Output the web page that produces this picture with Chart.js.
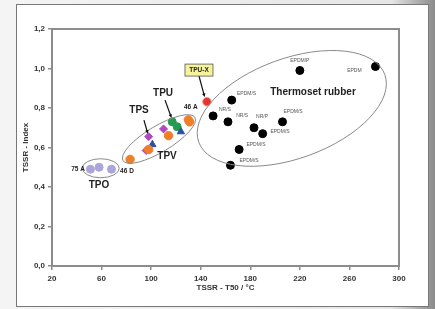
<!DOCTYPE html>
<html>
<head>
<meta charset="utf-8">
<script src="https://cdn.jsdelivr.net/npm/chart.js@4"></script>
<style>
  html, body { margin: 0; padding: 0; }
  body { width: 435px; height: 309px; overflow: hidden; background: #fff; }
  #wrap { position: relative; width: 435px; height: 309px; }
</style>
</head>
<body>
<div id="wrap"><canvas id="chart" width="435" height="309"></canvas></div>
<script>
// Data points (x = TSSR-T50 in °C, y = TSSR index)
const tpoX = [51, 58, 68];
const tpoY = [0.49, 0.50, 0.49];
const tpvX = [83, 98, 114, 130, 131];
const tpvY = [0.54, 0.59, 0.66, 0.74, 0.73];
const tpsX = [98, 96, 110];
const tpsY = [0.655, 0.585, 0.694];
const blueX = [101, 124];
const blueY = [0.615, 0.68];
const tpuX = [117, 121];
const tpuY = [0.73, 0.705];
const tpuxX = [145];
const tpuxY = [0.832];
const rubberX = [150, 162, 165, 183, 190, 206, 171, 164, 220, 281];
const rubberY = [0.76, 0.73, 0.84, 0.70, 0.67, 0.73, 0.59, 0.51, 0.99, 1.01];

const xTicks = [20, 60, 100, 140, 180, 220, 260, 300];
const yTicks = [0, 0.2, 0.4, 0.6, 0.8, 1.0, 1.2];

function pts(xs, ys) {
    return xs.map((x, i) => ({ x: x, y: ys[i] }));
}

// Annotations (text labels placed in data units)
const labels = [
    { t: 'EPDM/P', x: 220, y: 1.04, f: 'small' },
    { t: 'EPDM', x: 264, y: 0.99, f: 'small' },
    { t: 'EPDM/S', x: 177, y: 0.871, f: 'small' },
    { t: 'NR/S', x: 159.5, y: 0.79, f: 'small' },
    { t: 'NR/S', x: 173.5, y: 0.76, f: 'small' },
    { t: 'NR/P', x: 189.5, y: 0.754, f: 'small' },
    { t: 'EPDM/S', x: 214.5, y: 0.78, f: 'small' },
    { t: 'EPDM/S', x: 204, y: 0.678, f: 'small' },
    { t: 'EPDM/S', x: 184.6, y: 0.613, f: 'small' },
    { t: 'EPDM/S', x: 179, y: 0.532, f: 'small' },
    { t: 'Thermoset rubber', x: 230.6, y: 0.881, f: 'big' },
    { t: '46 A', x: 132, y: 0.805, f: 'mid' },
    { t: 'TPU', x: 109.6, y: 0.876, f: 'big' },
    { t: 'TPS', x: 90.2, y: 0.79, f: 'big' },
    { t: 'TPV', x: 112.8, y: 0.557, f: 'big' },
    { t: 'TPO', x: 57.9, y: 0.41, f: 'big' },
    { t: '75 A', x: 41, y: 0.491, f: 'mid' },
    { t: '46 D', x: 80.5, y: 0.481, f: 'mid' }
];
const ellipses = [
    { x: 59.3, y: 0.495, rx: 18.5, ry: 9.5, rot: 0 },
    { x: 106.3, y: 0.643, rx: 42, ry: 13, rot: -31 },
    { x: 213.5, y: 0.798, rx: 99, ry: 50, rot: -20 }
];
const arrows = [
    { x1: 138.6, y1: 0.962, x2: 143.2, y2: 0.856 },
    { x1: 111.2, y1: 0.84, x2: 116.4, y2: 0.75 },
    { x1: 94.2, y1: 0.739, x2: 97.3, y2: 0.67 }
];

const fonts = {
    small: '5px "Liberation Sans", Arial, sans-serif',
    mid: 'bold 6.5px "Liberation Sans", Arial, sans-serif',
    big: 'bold 10px "Liberation Sans", Arial, sans-serif'
};

// Page backdrop: gray surround and white card with frame
const backdrop = {
    id: 'backdrop',
    beforeDraw(chart) {
        const c = chart.ctx;
        c.save();
        const g = c.createLinearGradient(0, 0, 435, 0);
        g.addColorStop(0, '#f4f4f4');
        g.addColorStop(0.9, '#e6e6e6');
        g.addColorStop(1, '#8a8a8a');
        c.fillStyle = g;
        c.fillRect(0, 0, 435, 309);
        c.fillStyle = '#ffffff';
        c.fillRect(16, 4, 413, 303);
        c.strokeStyle = '#777';
        c.lineWidth = 1;
        c.strokeRect(16.5, 4.5, 412, 302);
        c.restore();
    }
};

// Frame, ellipses, arrows and text labels
const notes = {
    id: 'notes',
    afterDatasetsDraw(chart) {
        const c = chart.ctx;
        const xs = chart.scales.x, ys = chart.scales.y;
        const a = chart.chartArea;
        c.save();
        c.strokeStyle = '#8c8c8c';
        c.lineWidth = 2;
        c.strokeRect(a.left, a.top, a.right - a.left, a.bottom - a.top);

        c.strokeStyle = '#8a8a8a';
        c.lineWidth = 1;
        ellipses.forEach(e => {
            c.beginPath();
            c.ellipse(xs.getPixelForValue(e.x), ys.getPixelForValue(e.y), e.rx, e.ry, e.rot * Math.PI / 180, 0, Math.PI * 2);
            c.stroke();
        });

        c.strokeStyle = '#111';
        c.fillStyle = '#111';
        c.lineWidth = 1.2;
        arrows.forEach(r => {
            const x1 = xs.getPixelForValue(r.x1), y1 = ys.getPixelForValue(r.y1);
            const x2 = xs.getPixelForValue(r.x2), y2 = ys.getPixelForValue(r.y2);
            const ang = Math.atan2(y2 - y1, x2 - x1);
            c.beginPath();
            c.moveTo(x1, y1);
            c.lineTo(x2 - 3 * Math.cos(ang), y2 - 3 * Math.sin(ang));
            c.stroke();
            c.beginPath();
            c.moveTo(x2, y2);
            c.lineTo(x2 - 4 * Math.cos(ang - 0.45), y2 - 4 * Math.sin(ang - 0.45));
            c.lineTo(x2 - 4 * Math.cos(ang + 0.45), y2 - 4 * Math.sin(ang + 0.45));
            c.closePath();
            c.fill();
        });

        // TPU-X boxed label
        const bx = xs.getPixelForValue(138.6), by = ys.getPixelForValue(0.992);
        c.fillStyle = '#f6f39a';
        c.fillRect(bx - 14, by - 6, 28, 12);
        c.strokeStyle = '#555';
        c.lineWidth = 0.8;
        c.strokeRect(bx - 14, by - 6, 28, 12);
        c.fillStyle = '#222';
        c.font = 'bold 6.5px "Liberation Sans", Arial, sans-serif';
        c.textAlign = 'center';
        c.textBaseline = 'middle';
        c.fillText('TPU-X', bx, by + 0.5);

        labels.forEach(l => {
            c.font = fonts[l.f];
            c.fillStyle = l.f === 'small' ? '#555' : '#222';
            c.fillText(l.t, xs.getPixelForValue(l.x), ys.getPixelForValue(l.y));
        });
        c.restore();
    }
};

const tickFont = { family: '"Liberation Sans", Arial, sans-serif', size: 8, weight: 'bold' };

new Chart(document.getElementById('chart').getContext('2d'), {
    type: 'scatter',
    data: {
        datasets: [
            { label: 'TPO', data: pts(tpoX, tpoY), backgroundColor: '#aaa6da', borderColor: '#aaa6da', pointRadius: 4 },
            { label: 'TPV', data: pts(tpvX, tpvY), backgroundColor: '#f07d28', borderColor: '#f07d28', pointRadius: 4.2 },
            { label: 'TPS', data: pts(tpsX, tpsY), backgroundColor: '#b048bf', borderColor: '#b048bf', pointStyle: 'rectRot', pointRadius: 4 },
            { label: 'TPV-b', data: pts(blueX, blueY), backgroundColor: '#2b4fa2', borderColor: '#2b4fa2', pointStyle: 'triangle', pointRadius: 4.2 },
            { label: 'TPU', data: pts(tpuX, tpuY), backgroundColor: '#249a50', borderColor: '#249a50', pointRadius: 4 },
            { label: 'TPU-X', data: pts(tpuxX, tpuxY), backgroundColor: '#e8342a', borderColor: '#f38c84', borderWidth: 1, pointRadius: 4.2 },
            { label: 'Thermoset rubber', data: pts(rubberX, rubberY), backgroundColor: '#000', borderColor: '#000', pointRadius: 4 }
        ]
    },
    options: {
        responsive: false,
        animation: false,
        layout: { padding: { left: 21, top: 29, right: 36, bottom: 16 } },
        plugins: { legend: { display: false }, tooltip: { enabled: false } },
        scales: {
            x: {
                type: 'linear',
                min: 20, max: 300,
                afterBuildTicks: s => { s.ticks = xTicks.map(v => ({ value: v })); },
                afterFit: s => { s.height = 27; },
                grid: { drawOnChartArea: false, drawTicks: true, tickLength: 4, color: '#8c8c8c', lineWidth: 1.5 },
                border: { color: '#8c8c8c', width: 2 },
                ticks: { font: tickFont, color: '#333', padding: 4 },
                title: { display: true, text: 'TSSR - T50 / °C', font: tickFont, color: '#333', padding: { top: 0, bottom: 0 } }
            },
            y: {
                type: 'linear',
                min: 0, max: 1.2,
                afterBuildTicks: s => { s.ticks = yTicks.map(v => ({ value: v })); },
                afterFit: s => { s.width = 31; },
                grid: { drawOnChartArea: false, drawTicks: true, tickLength: 4, color: '#8c8c8c', lineWidth: 1.5 },
                border: { color: '#8c8c8c', width: 2 },
                ticks: { font: tickFont, color: '#333', padding: 3, callback: v => v.toFixed(1).replace('.', ',') },
                title: { display: true, text: 'TSSR - Index', font: tickFont, color: '#333', padding: { top: 0, bottom: 0 } }
            }
        }
    },
    plugins: [backdrop, notes]
});
</script>
</body>
</html>
